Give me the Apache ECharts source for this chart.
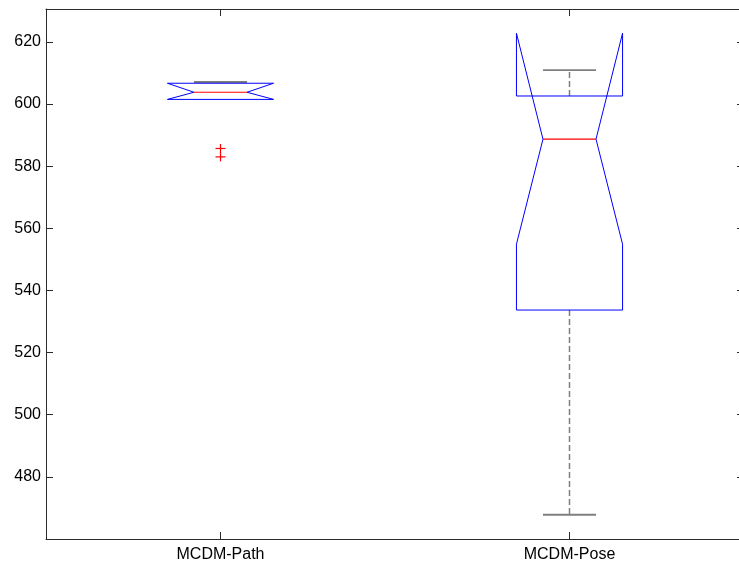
<!DOCTYPE html>
<html>
<head>
<meta charset="utf-8">
<script src="https://cdn.jsdelivr.net/npm/echarts@6/dist/echarts.min.js"></script>
<style>
  html, body { margin: 0; padding: 0; background: #fff; overflow: hidden; width: 739px; height: 563px; }
  /* the plot frame runs a few pixels past the right edge of the page */
  #chart { width: 745px; height: 563px; }
</style>
</head>
<body>
<div id="chart"></div>
<script>
// Notched box plot statistics per method
const categories = ['MCDM-Path', 'MCDM-Pose'];
const q1 = [601.5, 533.7];
const median = [603.8, 588.7];
const q3 = [606.7, 602.6];
const notchLow = [601.5, 554.9];
const notchHigh = [606.7, 622.8];
const whiskerLow = [601.5, 467.8];
const whiskerHigh = [607.1, 610.9];
// Outliers: [category index, value]
const outlierIndex = [0, 0];
const outlierValue = [585.7, 583.0];

const yTicks = { min: 460, max: 630.6, interval: 20 };

const boxData = categories.map((c, i) => [
  i, q1[i], notchLow[i], median[i], notchHigh[i], q3[i], whiskerLow[i], whiskerHigh[i]
]);
const outlierData = outlierIndex.map((i, k) => [i, outlierValue[k]]);

const BOX_FRACTION = 0.152; // half box width as a share of the category band
const AXIS_COLOR = '#2b2b2b';
const FONT = '"Liberation Sans", Arial, sans-serif';

function renderBox(params, api) {
  const idx = api.value(0);
  const band = api.size([1, 0])[0];
  const hw = band * BOX_FRACTION;
  const cx = api.coord([idx, api.value(3)])[0];
  const y = v => api.coord([idx, v])[1];
  const vq1 = api.value(1), vq3 = api.value(5), vWLo = api.value(6), vWHi = api.value(7);
  const yq1 = y(vq1), yNLo = y(api.value(2)), yMed = y(api.value(3));
  const yNHi = y(api.value(4)), yq3 = y(vq3);
  const yWLo = y(vWLo), yWHi = y(vWHi);
  const L = cx - hw, R = cx + hw, NL = cx - hw / 2, NR = cx + hw / 2;
  const whiskerStyle = { stroke: '#7f7f7f', lineWidth: 1.5, lineDash: [6, 3], fill: null };
  const capStyle = { stroke: '#7f7f7f', lineWidth: 1.8, fill: null };
  const children = [];
  // whiskers and caps, drawn only where they reach past the box
  if (vWHi > vq3) {
    children.push(
      { type: 'line', shape: { x1: cx, y1: yq3, x2: cx, y2: yWHi }, style: whiskerStyle },
      { type: 'line', shape: { x1: cx - hw / 2, y1: yWHi, x2: cx + hw / 2, y2: yWHi }, style: capStyle }
    );
  }
  if (vWLo < vq1) {
    children.push(
      { type: 'line', shape: { x1: cx, y1: yq1, x2: cx, y2: yWLo }, style: whiskerStyle },
      { type: 'line', shape: { x1: cx - hw / 2, y1: yWLo, x2: cx + hw / 2, y2: yWLo }, style: capStyle }
    );
  }
  children.push(
    {
      type: 'polyline',
      shape: {
        points: [
          [L, yq1], [L, yNLo], [NL, yMed], [L, yNHi], [L, yq3],
          [R, yq3], [R, yNHi], [NR, yMed], [R, yNLo], [R, yq1], [L, yq1]
        ]
      },
      style: { stroke: '#0000ff', lineWidth: 1, fill: null }
    },
    { type: 'line', shape: { x1: NL, y1: yMed, x2: NR, y2: yMed }, style: { stroke: '#ff0000', lineWidth: 1.2 } }
  );
  return { type: 'group', children };
}

function renderOutlier(params, api) {
  const p = api.coord([api.value(0), api.value(1)]);
  const st = { stroke: '#ff0000', lineWidth: 1.2 };
  return {
    type: 'group',
    children: [
      { type: 'line', shape: { x1: p[0] - 5, y1: p[1], x2: p[0] + 5, y2: p[1] }, style: st },
      { type: 'line', shape: { x1: p[0], y1: p[1] - 4.5, x2: p[0], y2: p[1] + 4.5 }, style: st }
    ]
  };
}

const catAxisBase = {
  type: 'category',
  data: categories,
  boundaryGap: true,
  axisLine: { show: true, onZero: false, lineStyle: { color: AXIS_COLOR, width: 1 } },
  axisTick: { show: true, inside: true, alignWithLabel: true, length: 7, lineStyle: { color: AXIS_COLOR } },
  splitLine: { show: false }
};
const valAxisBase = {
  type: 'value',
  min: yTicks.min,
  max: yTicks.max,
  interval: yTicks.interval,
  axisLine: { show: true, onZero: false, lineStyle: { color: AXIS_COLOR, width: 1 } },
  axisTick: { show: true, inside: true, length: 7, lineStyle: { color: AXIS_COLOR } },
  splitLine: { show: false }
};

const chart = echarts.init(document.getElementById('chart'), null, { renderer: 'canvas' });
chart.setOption({
  animation: false,
  backgroundColor: '#ffffff',
  grid: { left: 46, right: 1, top: 9, bottom: 24, containLabel: false },
  xAxis: [
    Object.assign({}, catAxisBase, {
      position: 'bottom',
      axisLabel: { show: true, color: '#000', fontSize: 16, fontFamily: FONT, margin: 8 }
    }),
    Object.assign({}, catAxisBase, { position: 'top', axisLabel: { show: false } })
  ],
  yAxis: [
    Object.assign({}, valAxisBase, {
      position: 'left',
      axisLabel: { show: true, color: '#000', fontSize: 16, fontFamily: FONT, margin: 5, showMinLabel: false, showMaxLabel: false }
    }),
    Object.assign({}, valAxisBase, { position: 'right', axisLabel: { show: false } })
  ],
  series: [
    { type: 'custom', xAxisIndex: 0, yAxisIndex: 0, renderItem: renderBox, data: boxData, clip: false },
    { type: 'custom', xAxisIndex: 0, yAxisIndex: 0, renderItem: renderOutlier, data: outlierData }
  ]
});
</script>
</body>
</html>
